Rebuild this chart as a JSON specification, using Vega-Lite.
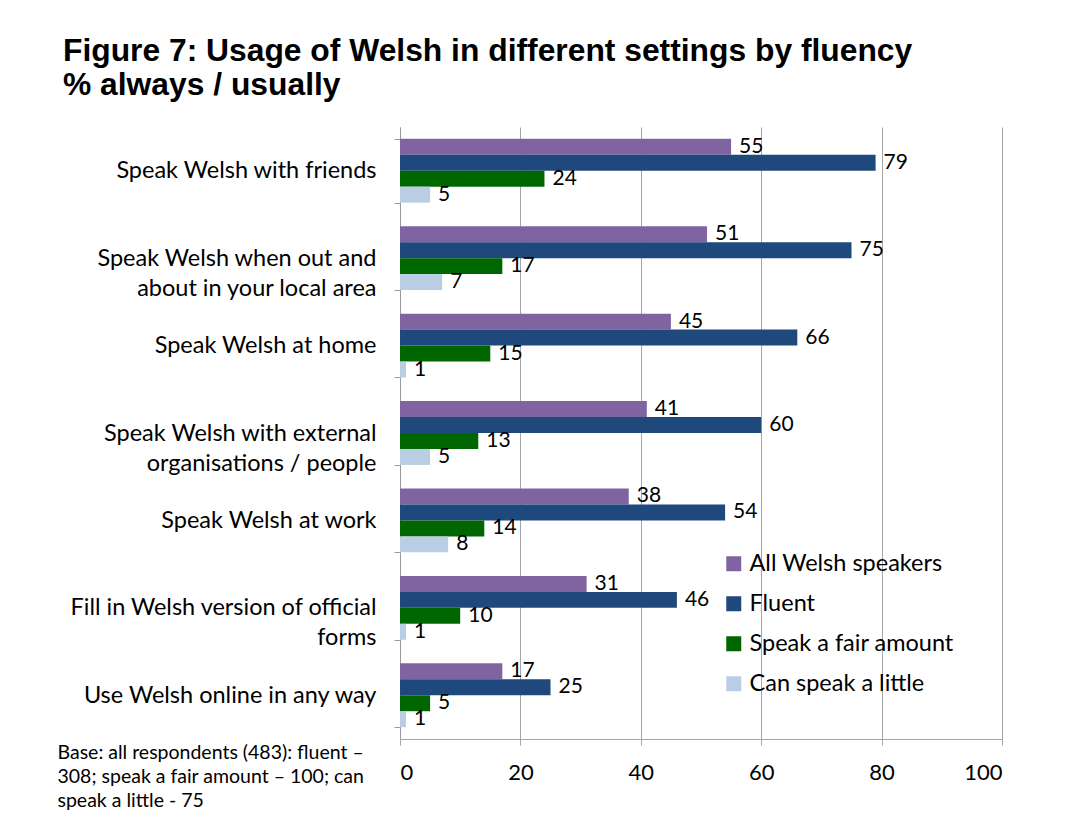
{
  "$schema": "https://vega.github.io/schema/vega-lite/v6.json",
  "width": 602,
  "height": 612,
  "padding": {"left": 57, "top": 36, "right": 5, "bottom": 5},
  "background": "white",
  "title": {
    "text": ["Figure 7: Usage of Welsh in different settings by fluency", "% always / usually"],
    "anchor": "start",
    "frame": "bounds",
    "font": "Liberation Sans",
    "fontSize": 31.8,
    "fontWeight": "bold",
    "color": "black",
    "lineHeight": 34,
    "offset": 13,
    "dx": 6
  },
  "data": {
    "values": [
      {"setting": "Speak Welsh with friends", "group": "All Welsh speakers", "value": 55},
      {"setting": "Speak Welsh with friends", "group": "Fluent", "value": 79},
      {"setting": "Speak Welsh with friends", "group": "Speak a fair amount", "value": 24},
      {"setting": "Speak Welsh with friends", "group": "Can  speak a little", "value": 5},
      {"setting": "Speak Welsh when out and|about in your local area", "group": "All Welsh speakers", "value": 51},
      {"setting": "Speak Welsh when out and|about in your local area", "group": "Fluent", "value": 75},
      {"setting": "Speak Welsh when out and|about in your local area", "group": "Speak a fair amount", "value": 17},
      {"setting": "Speak Welsh when out and|about in your local area", "group": "Can  speak a little", "value": 7},
      {"setting": "Speak Welsh at home", "group": "All Welsh speakers", "value": 45},
      {"setting": "Speak Welsh at home", "group": "Fluent", "value": 66},
      {"setting": "Speak Welsh at home", "group": "Speak a fair amount", "value": 15},
      {"setting": "Speak Welsh at home", "group": "Can  speak a little", "value": 1},
      {"setting": "Speak Welsh with external|organisations / people", "group": "All Welsh speakers", "value": 41},
      {"setting": "Speak Welsh with external|organisations / people", "group": "Fluent", "value": 60},
      {"setting": "Speak Welsh with external|organisations / people", "group": "Speak a fair amount", "value": 13},
      {"setting": "Speak Welsh with external|organisations / people", "group": "Can  speak a little", "value": 5},
      {"setting": "Speak Welsh at work", "group": "All Welsh speakers", "value": 38},
      {"setting": "Speak Welsh at work", "group": "Fluent", "value": 54},
      {"setting": "Speak Welsh at work", "group": "Speak a fair amount", "value": 14},
      {"setting": "Speak Welsh at work", "group": "Can  speak a little", "value": 8},
      {"setting": "Fill in Welsh version of official|forms", "group": "All Welsh speakers", "value": 31},
      {"setting": "Fill in Welsh version of official|forms", "group": "Fluent", "value": 46},
      {"setting": "Fill in Welsh version of official|forms", "group": "Speak a fair amount", "value": 10},
      {"setting": "Fill in Welsh version of official|forms", "group": "Can  speak a little", "value": 1},
      {"setting": "Use Welsh online in any way", "group": "All Welsh speakers", "value": 17},
      {"setting": "Use Welsh online in any way", "group": "Fluent", "value": 25},
      {"setting": "Use Welsh online in any way", "group": "Speak a fair amount", "value": 5},
      {"setting": "Use Welsh online in any way", "group": "Can  speak a little", "value": 1}
    ]
  },
  "encoding": {
    "y": {
      "field": "setting",
      "type": "nominal",
      "sort": null,
      "scale": {"paddingInner": 0.27, "paddingOuter": 0.135},
      "axis": {
        "title": null,
        "labelExpr": "split(datum.label, '|')",
        "labelFont": "Lato",
        "labelFontSize": 23.5,
        "labelColor": "black",
        "labelLineHeight": 30,
        "labelPadding": 18,
        "labelLimit": 400,
        "tickBand": "extent",
        "tickSize": 6,
        "tickColor": "#9a9a9a",
        "domainColor": "#9a9a9a",
        "grid": false
      }
    },
    "yOffset": {
      "field": "group",
      "type": "nominal",
      "sort": ["All Welsh speakers", "Fluent", "Speak a fair amount", "Can  speak a little"],
      "scale": {"paddingInner": 0, "paddingOuter": 0}
    },
    "x": {
      "field": "value",
      "type": "quantitative",
      "scale": {"domain": [0, 100]},
      "axis": {
        "values": [0, 20, 40, 60, 80, 100],
        "grid": true,
        "gridColor": "#a6a6a6",
        "gridWidth": 1,
        "domainColor": "#a6a6a6",
        "tickColor": "#a6a6a6",
        "tickSize": 6,
        "labelFont": "Lato",
        "labelFontSize": 22,
        "labelColor": "black",
        "labelPadding": 17,
        "title": ["Base: all respondents (483): fluent –", "308; speak a fair amount – 100; can", "speak a little -  75"],
        "titleX": -343,
        "titleY": 4,
        "titleAlign": "left",
        "titleBaseline": "top",
        "titleFont": "Lato",
        "titleFontSize": 19.5,
        "titleFontWeight": "normal",
        "titleColor": "black",
        "titleLineHeight": 24
      }
    }
  },
  "layer": [
    {
      "mark": {"type": "bar"},
      "encoding": {
        "color": {
          "field": "group",
          "type": "nominal",
          "scale": {
            "domain": ["All Welsh speakers", "Fluent", "Speak a fair amount", "Can  speak a little"],
            "range": ["#8064A2", "#1F497D", "#006600", "#B9CDE5"]
          },
          "legend": {
            "orient": "none",
            "legendX": 322,
            "legendY": 425,
            "title": null,
            "symbolType": "square",
            "symbolSize": 225,
            "symbolStrokeWidth": 0,
            "symbolOpacity": 1,
            "labelFont": "Lato",
            "labelFontSize": 23.5,
            "labelColor": "black",
            "labelOffset": 4,
            "labelLimit": 400,
            "rowPadding": 15
          }
        }
      }
    },
    {
      "mark": {"type": "text", "align": "left", "baseline": "middle", "dx": 8, "font": "Lato", "fontSize": 21, "color": "black"},
      "encoding": {"text": {"field": "value", "type": "quantitative"}}
    }
  ],
  "config": {"view": {"stroke": null}}
}
